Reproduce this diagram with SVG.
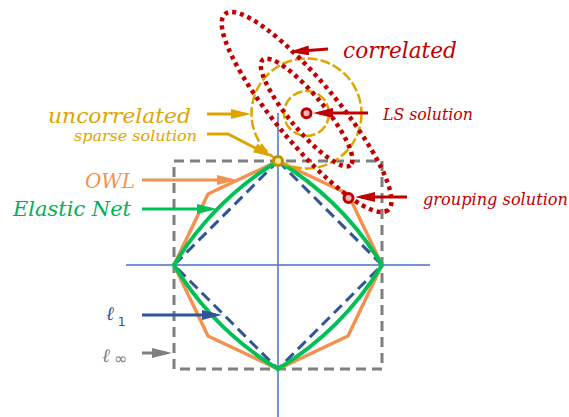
<svg xmlns="http://www.w3.org/2000/svg" width="569" height="417" viewBox="0 0 569 417">
<style>
.axis{stroke:#4472C4;stroke-width:1.5;fill:none}
.box{stroke:#7F7F7F;stroke-width:3;fill:none;stroke-dasharray:10 6}
.l1{stroke:#2F5597;stroke-width:3;fill:none;stroke-dasharray:11 6}
.owl{stroke:#F4914F;stroke-width:3.5;fill:none}
.en{stroke:#00C056;stroke-width:4;fill:none}
.circ{stroke:#DEA500;stroke-width:2.5;fill:none;stroke-dasharray:10 3}
.ell{stroke:#C00000;stroke-width:4.5;fill:none;stroke-dasharray:4 4}
.pt-red{fill:#F4B8B8;stroke:#C00000;stroke-width:3}
.pt-gold{fill:#FFE699;stroke:#BF9000;stroke-width:3}
.arr{stroke-width:3;fill:none}
.lbl{font-family:"DejaVu Serif",serif;font-style:italic}
.sym{font-family:"DejaVu Sans",sans-serif}
</style>
<defs>
<marker id="mRed" viewBox="0 0 20 10" refX="14" refY="5" markerWidth="20" markerHeight="10" markerUnits="userSpaceOnUse" orient="auto"><path d="M0,0 L20,5 L0,10 z" fill="#C00000"/></marker>
<marker id="mGold" viewBox="0 0 20 10" refX="14" refY="5" markerWidth="20" markerHeight="10" markerUnits="userSpaceOnUse" orient="auto"><path d="M0,0 L20,5 L0,10 z" fill="#DEA500"/></marker>
<marker id="mOrange" viewBox="0 0 20 10" refX="14" refY="5" markerWidth="20" markerHeight="10" markerUnits="userSpaceOnUse" orient="auto"><path d="M0,0 L20,5 L0,10 z" fill="#F4914F"/></marker>
<marker id="mGreen" viewBox="0 0 20 10" refX="14" refY="5" markerWidth="20" markerHeight="10" markerUnits="userSpaceOnUse" orient="auto"><path d="M0,0 L20,5 L0,10 z" fill="#00C056"/></marker>
<marker id="mBlue" viewBox="0 0 20 10" refX="14" refY="5" markerWidth="20" markerHeight="10" markerUnits="userSpaceOnUse" orient="auto"><path d="M0,0 L20,5 L0,10 z" fill="#2F5597"/></marker>
<marker id="mGray" viewBox="0 0 20 10" refX="14" refY="5" markerWidth="20" markerHeight="10" markerUnits="userSpaceOnUse" orient="auto"><path d="M0,0 L20,5 L0,10 z" fill="#7F7F7F"/></marker>
</defs>
<rect width="569" height="417" fill="#FFFFFF"/>

<g id="axes">
<line class="axis" x1="126" y1="265" x2="430" y2="265"/>
<line class="axis" x1="278" y1="113" x2="278" y2="417"/>
</g>
<g id="linf-ball"><rect class="box" x="174" y="161" width="208" height="208"/></g>
<g id="l1-ball"><path class="l1" d="M278,161 L382,265 L278,369 L174,265 Z"/></g>
<g id="owl-ball"><path class="owl" d="M278,161 L348,194 L382,265 L348,336 L278,369 L208,336 L174,265 L208,194 Z"/></g>
<g id="elastic-net-ball"><path class="en" d="M278,161 Q342.7,200.3 382,265 Q342.7,329.7 278,369 Q213.3,329.7 174,265 Q213.3,200.3 278,161 Z"/></g>
<g id="uncorrelated-circles">
<circle class="circ" cx="306.5" cy="113.5" r="55"/>
<circle class="circ" cx="306.5" cy="113.5" r="22.5"/>
</g>
<g id="correlated-ellipses">
<ellipse class="ell" cx="306.6" cy="112" rx="127.5" ry="31" transform="rotate(50.3 306.6 112)"/>
<ellipse class="ell" cx="306.6" cy="112.5" rx="68.5" ry="17.5" transform="rotate(50.3 306.6 112.5)"/>
</g>
<g id="ls-solution"><circle class="pt-red" cx="306.5" cy="113.3" r="4.5"/></g>
<g id="grouping-solution"><circle class="pt-red" cx="348.5" cy="198" r="4.5"/></g>
<g id="sparse-solution"><circle class="pt-gold" cx="278" cy="161" r="4.5"/></g>

<g id="connectors">
<path class="arr" stroke="#C00000" marker-end="url(#mRed)" d="M328,49 L295,51.5"/>
<path class="arr" stroke="#C00000" marker-end="url(#mRed)" d="M368,113 L319,113"/>
<path class="arr" stroke="#C00000" marker-end="url(#mRed)" d="M407,197 L361,197"/>
<path class="arr" stroke="#DEA500" marker-end="url(#mGold)" d="M207,114 L245,114"/>
<path class="arr" stroke="#DEA500" marker-end="url(#mGold)" d="M207,134 L228,134 L267.7,154.3"/>
<path class="arr" stroke="#F4914F" marker-end="url(#mOrange)" d="M142,180 L231,180"/>
<path class="arr" stroke="#00C056" marker-end="url(#mGreen)" d="M142,209 L211,209"/>
<path class="arr" stroke="#2F5597" marker-end="url(#mBlue)" d="M142,315 L216,315"/>
<path class="arr" stroke="#7F7F7F" marker-end="url(#mGray)" d="M142,353 L166,353"/>
</g>

<g id="labels">
<text class="lbl" x="343" y="58" font-size="22" fill="#C00000" textLength="114" lengthAdjust="spacingAndGlyphs">correlated</text>
<text class="lbl" x="383" y="120" font-size="16" fill="#C00000" textLength="90" lengthAdjust="spacingAndGlyphs">LS solution</text>
<text class="lbl" x="423" y="204.5" font-size="16" fill="#C00000" textLength="145" lengthAdjust="spacingAndGlyphs">grouping solution</text>
<text class="lbl" x="48" y="123" font-size="21" fill="#DEA500" textLength="143" lengthAdjust="spacingAndGlyphs">uncorrelated</text>
<text class="lbl" x="74" y="140.5" font-size="14.5" fill="#DEA500" textLength="123" lengthAdjust="spacingAndGlyphs">sparse solution</text>
<text class="lbl" x="85" y="188" font-size="21" fill="#F4914F" textLength="50" lengthAdjust="spacingAndGlyphs">OWL</text>
<text class="lbl" x="13" y="216" font-size="21" fill="#00B050" textLength="118" lengthAdjust="spacingAndGlyphs">Elastic Net</text>
<text class="lbl" x="106" y="320" font-size="19" fill="#2F5597">ℓ</text>
<text class="sym" x="117.5" y="326" font-size="13" fill="#2F5597">1</text>
<text class="lbl" x="102" y="361.5" font-size="19" fill="#7F7F7F">ℓ</text>
<text class="sym" x="114" y="364" font-size="16" fill="#7F7F7F">∞</text>
</g>
</svg>
